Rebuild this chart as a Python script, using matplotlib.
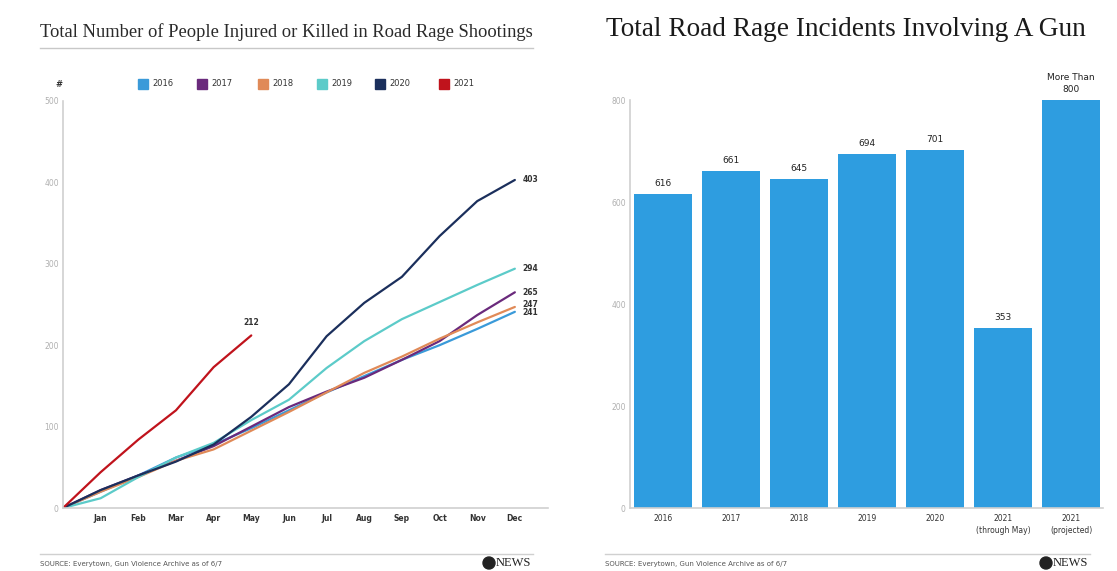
import matplotlib.pyplot as plt
import matplotlib.patches as mpatches
import numpy as np

# datos: meses y series acumuladas (lectura aproximada de la imagen)
months = ["Jan", "Feb", "Mar", "Apr", "May", "Jun", "Jul", "Aug", "Sep", "Oct", "Nov", "Dec"]
years = ["2016", "2017", "2018", "2019", "2020", "2021"]
colors = ["#3a9ad9", "#6a2a7c", "#e08a58", "#5ccbc9", "#1b2f5c", "#c0131c"]

s2016 = [0, 20, 40, 62, 78, 98, 120, 142, 162, 182, 200, 220, 241]
s2017 = [0, 22, 40, 58, 76, 100, 124, 143, 160, 182, 205, 237, 265]
s2018 = [0, 20, 38, 58, 72, 95, 118, 142, 166, 186, 208, 228, 247]
s2019 = [0, 12, 38, 62, 80, 108, 133, 172, 205, 232, 253, 274, 294]
s2020 = [0, 22, 40, 57, 78, 112, 152, 211, 252, 284, 334, 377, 403]
s2021 = [0, 44, 84, 120, 173, 212]
series = [s2016, s2017, s2018, s2019, s2020, s2021]

# barras
bar_labels = ["2016", "2017", "2018", "2019", "2020", "2021\n(through May)", "2021\n(projected)"]
bar_values = [616, 661, 645, 694, 701, 353, 800]
bar_texts = ["616", "661", "645", "694", "701", "353", "More Than\n800"]

W, H = 1117, 571
fig = plt.figure(figsize=(W / 100, H / 100), dpi=100)
fig.patch.set_facecolor("white")


def px(x0, y0, x1, y1):
    # caja en pixeles -> fraccion de figura
    return [x0 / W, 1 - y1 / H, (x1 - x0) / W, (y1 - y0) / H]


gris = "#9a9a9a"
oscuro = "#333333"

# ---------------- grafico de lineas ----------------
ax1 = fig.add_axes(px(63, 101, 548, 508))
for s, c in zip(series, colors):
    ax1.plot(range(len(s)), s, color=c, lw=1.6, solid_capstyle="round")

ax1.set_xlim(0, 12.88)
ax1.set_ylim(0, 500)
ax1.set_xticks(range(1, 13))
ax1.set_xticklabels(months, fontsize=5.5, color=oscuro, fontweight="bold")
ax1.set_yticks([0, 100, 200, 300, 400, 500])
ax1.tick_params(axis="y", labelsize=5.5, labelcolor="#b0b0b0", length=0, pad=3)
ax1.tick_params(axis="x", length=0, pad=4)
for lado in ["top", "right"]:
    ax1.spines[lado].set_visible(False)
ax1.spines["left"].set_color("#d0d0d0")
ax1.spines["bottom"].set_color("#d0d0d0")
ax1.spines["left"].set_linewidth(1.2)
ax1.spines["bottom"].set_linewidth(1.2)

# etiquetas al final de cada linea
ends = {"403": (12, 403), "294": (12, 294), "265": (12, 265), "247": (12, 250), "241": (12, 240)}
for txt, (xx, yy) in ends.items():
    ax1.text(xx + 0.2, yy, txt, fontsize=5.5, color=oscuro, va="center", fontweight="bold")
ax1.text(5, 222, "212", fontsize=5.5, color=oscuro, ha="center", va="bottom", fontweight="bold")

# leyenda
ax1.text(-0.1, 520, "#", fontsize=6, color=oscuro, ha="center", va="center", fontweight="bold", clip_on=False)
leg_x = [143, 202, 263, 322, 380, 444]
for xp, yr, c in zip(leg_x, years, colors):
    fig.patches.append(mpatches.Rectangle(((xp - 5) / W, 1 - 89 / H), 10 / W, 10 / H,
                                          transform=fig.transFigure, color=c))
    fig.text((xp + 9) / W, 1 - 84 / H, yr, fontsize=6, color=oscuro, va="center")

# ---------------- grafico de barras ----------------
ax2 = fig.add_axes(px(630, 100, 1103, 508))
xb = np.arange(len(bar_values))
ax2.bar(xb, bar_values, width=0.85, color="#2e9de0")
ax2.set_xlim(-0.485, 6.47)
ax2.set_ylim(0, 800)
ax2.set_xticks(xb)
ax2.set_xticklabels(bar_labels, fontsize=5.5, color=oscuro, linespacing=1.5)
ax2.set_yticks([0, 200, 400, 600, 800])
ax2.tick_params(axis="y", labelsize=5.5, labelcolor="#b0b0b0", length=0, pad=3)
ax2.tick_params(axis="x", length=0, pad=4)
for lado in ["top", "right"]:
    ax2.spines[lado].set_visible(False)
ax2.spines["left"].set_color("#d0d0d0")
ax2.spines["bottom"].set_color("#d0d0d0")
ax2.spines["left"].set_linewidth(1.2)
ax2.spines["bottom"].set_linewidth(1.2)
for x, v, t in zip(xb, bar_values, bar_texts):
    ax2.text(x, v + 12, t, ha="center", va="bottom", fontsize=6.5, color="#222222",
             linespacing=1.4, clip_on=False, fontweight="medium")

# ---------------- titulos y pie ----------------
fig.text(40 / W, 1 - 32 / H, "Total Number of People Injured or Killed in Road Rage Shootings",
         family="Liberation Serif", fontsize=13.3, color="#2a2a2a", va="center")
fig.add_artist(plt.Line2D([40 / W, 533 / W], [1 - 48 / H, 1 - 48 / H], color="#c8c8c8", lw=1))
fig.text(606 / W, 1 - 30 / H, "Total Road Rage Incidents Involving A Gun",
         family="Liberation Serif", fontsize=19.6, color="#1a1a1a", va="center")

for x0, x1 in [(40, 533), (605, 1090)]:
    fig.add_artist(plt.Line2D([x0 / W, x1 / W], [1 - 554 / H, 1 - 554 / H], color="#d0d0d0", lw=1))
    fig.text(x0 / W, 1 - 564 / H, "SOURCE: Everytown, Gun Violence Archive as of 6/7",
             fontsize=5, color="#555555", va="center")
    fig.add_artist(mpatches.Ellipse(((x1 - 44) / W, 1 - 563 / H), 12 / W, 12 / H,
                                    transform=fig.transFigure, color="#222222"))
    fig.text((x1 - 37) / W, 1 - 563 / H, "NEWS", family="Liberation Serif", fontsize=9,
             color="#222222", va="center")

fig.savefig("out.png", dpi=100)
